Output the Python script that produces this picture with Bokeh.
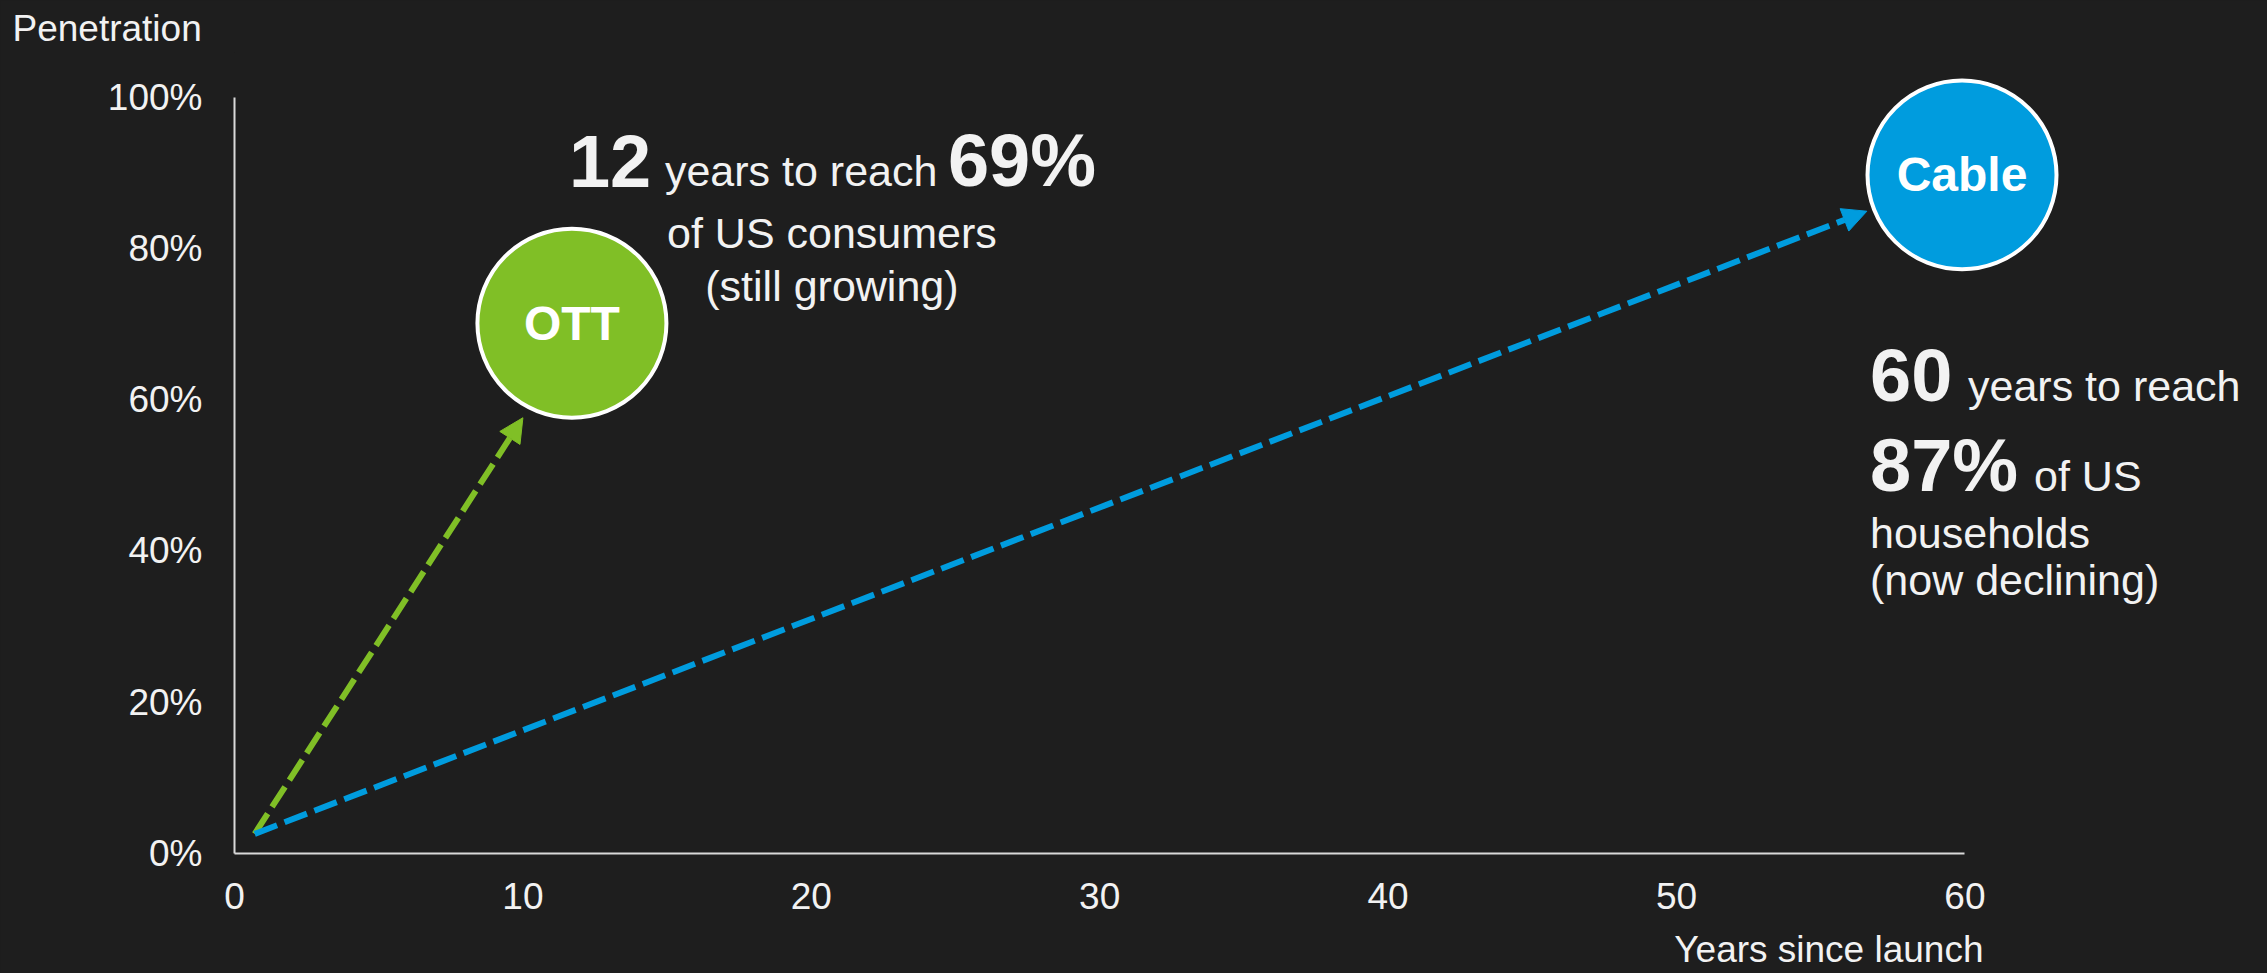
from bokeh.plotting import figure
from bokeh.models import (Range1d, FixedTicker, PrintfTickFormatter, Label, Arrow,
                          NormalHead, ColumnDataSource, Title)
from bokeh.embed import file_html
from bokeh.resources import INLINE
from bokeh.core.properties import value

# ---------------- data ----------------
products = ["OTT", "Cable"]
circle_year = [11.7, 59.9]          # where each circle sits (years since launch)
circle_pen = [70.1, 89.7]           # penetration (%) where each circle sits
headline_years = ["12", "60"]
headline_pct = ["69%", "87%"]
arrow_start_year = [0.7, 0.7]
arrow_start_pen = [2.6, 2.6]
arrow_end_year = [10.0, 56.6]
arrow_end_pen = [57.6, 84.9]
x_ticks = [0, 10, 20, 30, 40, 50, 60]
y_ticks = [0, 20, 40, 60, 80, 100]

# ---------------- style ----------------
BG = "#1e1e1e"
TXT = "#f2f2f2"
AXIS = "#d9d9d9"
COLORS = ["#80BF26", "#009CDE"]
FONT = "Liberation Sans"
AX_FONT = "37px"

W, H = 2267, 973
LEFT, BOTTOM, TOP = 234, 120, 52
PX_X = 28.84                # px per year
PX_Y = 7.565                # px per percentage point
X_MAX = (W - LEFT) / PX_X
Y_MAX = ((H - BOTTOM) - TOP) / PX_Y
MID = 0.3465                # text anchor sits this many em above the baseline

p = figure(width=W, height=H, x_range=Range1d(0, X_MAX), y_range=Range1d(0, Y_MAX),
           output_backend="svg", toolbar_location=None,
           min_border_left=LEFT, min_border_right=0, min_border_top=TOP,
           min_border_bottom=BOTTOM,
           background_fill_color=BG, border_fill_color=BG, outline_line_color=None)
p.grid.visible = False

for ax in (p.xaxis[0], p.yaxis[0]):
    ax.axis_line_color = AXIS
    ax.axis_line_width = 2
    ax.major_tick_line_color = None
    ax.minor_tick_line_color = None
    ax.major_tick_out = 0
    ax.major_tick_in = 0
    ax.minor_tick_out = 0
    ax.minor_tick_in = 0
    ax.major_label_text_font = FONT
    ax.major_label_text_font_size = AX_FONT
    ax.major_label_text_color = TXT

p.xaxis.bounds = (0, 60)
p.yaxis.bounds = (0, 100)
p.xaxis.ticker = FixedTicker(ticks=x_ticks)
p.yaxis.ticker = FixedTicker(ticks=y_ticks)
p.yaxis.formatter = PrintfTickFormatter(format="%d%%")
p.xaxis.major_label_standoff = 29
p.yaxis.major_label_standoff = 32
# blank spacer label: keeps the x-axis title down at the bottom edge
p.xaxis.axis_label = " "
p.xaxis.axis_label_text_font_size = "1px"
p.xaxis.axis_label_standoff = 11

# axis titles
p.add_layout(Title(text="Penetration", align="left", offset=-222, vertical_align="top",
                   standoff=4, text_font=FONT, text_font_size=AX_FONT,
                   text_font_style="normal", text_color=TXT), "above")
p.add_layout(Title(text="Years since launch", align="right", offset=284, vertical_align="bottom",
                   standoff=0, text_font=FONT, text_font_size=AX_FONT,
                   text_font_style="normal", text_color=TXT), "below")

# ---------------- arrows ----------------
for i in range(len(products)):
    p.add_layout(Arrow(end=NormalHead(size=24, fill_color=COLORS[i], line_color=COLORS[i], line_width=1),
                       x_start=arrow_start_year[i], y_start=arrow_start_pen[i],
                       x_end=arrow_end_year[i], y_end=arrow_end_pen[i],
                       line_color=COLORS[i], line_width=6, line_dash="24 8"))

# ---------------- circles ----------------
src = ColumnDataSource(dict(x=circle_year, y=circle_pen, color=COLORS, name=products))
p.scatter(x="x", y="y", size=189, fill_color="color", line_color="white", line_width=4, source=src)
p.text(x="x", y="y", text="name", source=src, text_align="center", text_baseline="alphabetic",
       text_font=value(FONT), text_font_style="bold", text_font_size="48px", text_color="white")


def lab(txt, x, y, dx, dy, size, bold=False, align="left"):
    dy = dy + MID * size      # dy = baseline height above the anchor point, px
    p.add_layout(Label(x=x + dx / PX_X, y=y + dy / PX_Y, text=txt, text_font=FONT,
                       text_font_size="%dpx" % size, text_font_style="bold" if bold else "normal",
                       text_color=TXT, text_align=align, text_baseline="alphabetic"))


BIG, SMALL = 74, 43
# OTT block (offsets in px from the OTT circle centre)
ox, oy = circle_year[0], circle_pen[0]
lab(headline_years[0], ox, oy, -3, 137, BIG, True)
lab("years to reach", ox, oy, 93, 137, SMALL)
lab(headline_pct[0], ox, oy, 376, 137, BIG, True)
lab("of US consumers", ox, oy, 260, 75, SMALL, align="center")
lab("(still growing)", ox, oy, 260, 22, SMALL, align="center")

# Cable block (offsets in px from the Cable circle centre)
cx, cy = circle_year[1], circle_pen[1]
lab(headline_years[1], cx, cy, -92, -226, BIG, True)
lab("years to reach", cx, cy, 6, -226, SMALL)
lab(headline_pct[1], cx, cy, -92, -316, BIG, True)
lab("of US", cx, cy, 72, -316, SMALL)
lab("households", cx, cy, -92, -373, SMALL)
lab("(now declining)", cx, cy, -92, -420, SMALL)

html = file_html(p, INLINE, title="OTT vs Cable")
html = html.replace("</head>", "<style>html,body{background:%s;overflow:hidden;}</style></head>" % BG, 1)
open("out.html", "w").write(html)
